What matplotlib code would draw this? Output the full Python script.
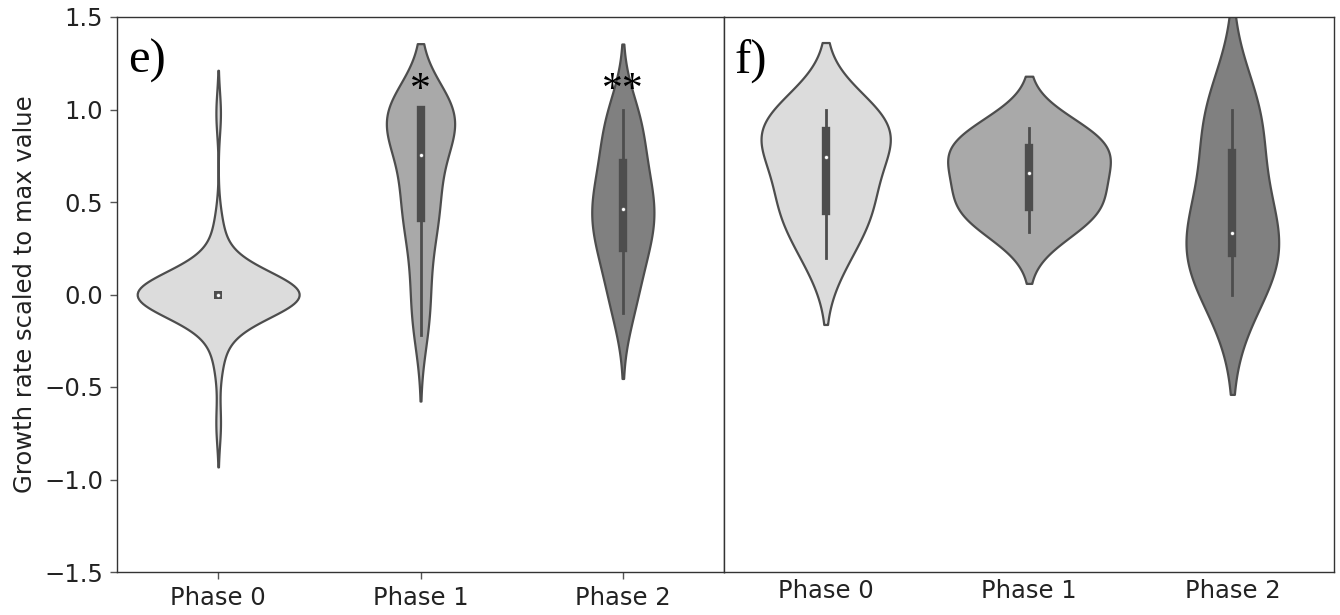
import numpy as np
import matplotlib
matplotlib.use("Agg")
import matplotlib.pyplot as plt

# ---------------------------------------------------------------- data
phases = ["Phase 0", "Phase 1", "Phase 2"]

# panel e) growth rates, scaled to max value
e_phase0 = [0.98, -0.70,
            0.38, -0.38, 0.28, -0.28, 0.18, -0.18,
            0.11, 0.11, 0.11, -0.11, -0.11, -0.11,
            0.06, 0.06, 0.06, -0.06, -0.06, -0.06,
            0.0, 0.0, 0.0, 0.0, 0.0, 0.0, 0.0, 0.0, 0.0, 0.0,
            0.0, 0.0, 0.0, 0.0, 0.0, 0.0, 0.0, 0.0, 0.0, 0.0,
            0.0, 0.0, 0.0, 0.0, 0.0, 0.0]
e_phase1 = [-0.22, -0.15, -0.05, 0.05, 0.15, 0.25, 0.35, 0.41, 0.43, 0.46,
            0.50, 0.55, 0.62, 0.70, 0.75, 0.76, 0.80, 0.85, 0.90, 0.93,
            0.96, 1.0, 1.0, 1.0, 1.0, 1.0, 1.0, 1.0, 1.0, 1.0]
e_phase2 = [-0.10, -0.10, -0.02, 0.05, 0.12, 0.17, 0.21, 0.24, 0.28, 0.32,
            0.35, 0.38, 0.41, 0.44, 0.45, 0.47, 0.50, 0.53, 0.56, 0.60,
            0.64, 0.69, 0.72, 0.78, 0.83, 0.88, 0.92, 0.96, 1.0, 1.0]

# panel f) growth rates, scaled to max value
f_phase0 = [0.20, 0.42, 0.451, 0.60, 0.743, 0.84, 0.884, 0.96, 1.0]
f_phase1 = [0.34, 0.42, 0.46, 0.49, 0.58, 0.655, 0.72, 0.78, 0.80, 0.87, 0.90]
f_phase2 = [0.0, 0.18, 0.27, 0.334, 0.60, 0.93, 1.0]

# kernel bandwidths (data units) for the density outlines
e_bandwidth = [0.116, 0.178, 0.177]
f_bandwidth = [0.181, 0.140, 0.270]

# significance marks above panel e) violins
e_marks = ["", "*", "**"]
mark_y = 1.045

# ---------------------------------------------------------------- style
fills = ["gainsboro", "darkgray", "gray"]
line_gray = "#4d4d4d"
text_color = "#222222"
tick_fs = 17.5


def kde_curve(values, bw, cut=2.0, gridsize=200):
    x = np.asarray(values, dtype=float)
    support = np.linspace(x.min() - cut * bw, x.max() + cut * bw, gridsize)
    z = (support[:, None] - x[None, :]) / bw
    dens = np.exp(-0.5 * z ** 2).sum(axis=1) / (len(x) * bw * np.sqrt(2 * np.pi))
    return support, dens


def draw_violins(ax, groups, bws):
    curves = [kde_curve(g, b) for g, b in zip(groups, bws)]
    peak = max(d.max() for _, d in curves)
    for i, ((support, dens), vals) in enumerate(zip(curves, groups)):
        half = 0.4 * dens / peak
        ax.fill_betweenx(support, i - half, i + half, facecolor=fills[i],
                         edgecolor=line_gray, linewidth=1.6, zorder=1)
        v = np.asarray(vals, dtype=float)
        q25, q50, q75 = np.percentile(v, [25, 50, 75])
        reach = 1.5 * (q75 - q25)
        lo = v[v >= q25 - reach].min()
        hi = v[v <= q75 + reach].max()
        if hi > lo:
            ax.plot([i, i], [lo, hi], color=line_gray, lw=2.0,
                    solid_capstyle="projecting", zorder=2)
        if q75 > q25:
            ax.plot([i, i], [q25, q75], color=line_gray, lw=6.0,
                    solid_capstyle="projecting", zorder=2)
        else:
            # a zero-height box still shows as a small square
            ax.plot([i], [q25], marker="s", ms=6.0, mew=0,
                    color=line_gray, zorder=2)
        ax.scatter([i], [q50], s=8, color="white", edgecolor=line_gray,
                   linewidth=0.4, zorder=3)


fig = plt.figure(figsize=(13.4, 6.15), dpi=100)
ax_e = fig.add_axes([117 / 1340, 43 / 615, 607 / 1340, 555 / 615])
ax_f = fig.add_axes([724 / 1340, 43 / 615, 610 / 1340, 555 / 615])

draw_violins(ax_e, [e_phase0, e_phase1, e_phase2], e_bandwidth)
draw_violins(ax_f, [f_phase0, f_phase1, f_phase2], f_bandwidth)

for ax in (ax_e, ax_f):
    ax.set_xlim(-0.5, 2.5)
    ax.set_ylim(-1.5, 1.5)
    ax.set_xticks(range(len(phases)))
    ax.set_xticklabels(phases, fontsize=tick_fs, color=text_color)
    for sp in ax.spines.values():
        sp.set_color("#333333")
        sp.set_linewidth(1.0)
    ax.tick_params(colors="#555555", labelcolor=text_color, width=1.0)

ax_e.set_yticks(np.arange(-1.5, 1.51, 0.5))
ax_e.tick_params(axis="y", labelsize=tick_fs, length=5, pad=5)
ax_e.tick_params(axis="x", length=5, pad=5)
ax_e.set_ylabel("Growth rate scaled to max value", fontsize=tick_fs,
                color=text_color, labelpad=5)

ax_f.set_yticks([])
ax_f.tick_params(axis="x", length=0, pad=5)

for ax, letter in ((ax_e, "e)"), (ax_f, "f)")):
    ax.text(0.018, 0.9, letter, transform=ax.transAxes, fontsize=35,
            family="Liberation Serif", va="baseline", ha="left", color="black")

for i, mark in enumerate(e_marks):
    if mark:
        ax_e.text(i, mark_y, mark, ha="center", va="baseline", fontsize=30,
                  family="Liberation Serif", color="black", zorder=4)

fig.savefig("out.png", dpi=100)
